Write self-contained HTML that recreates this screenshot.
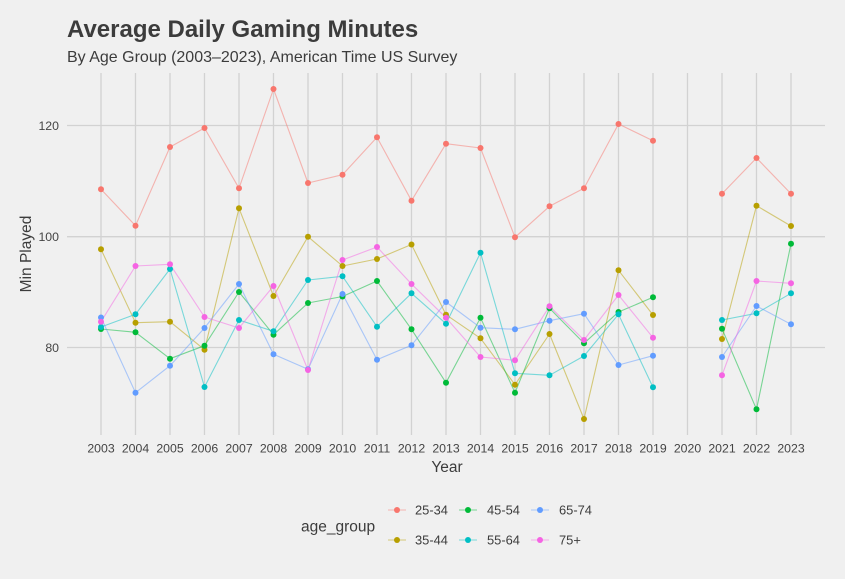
<!DOCTYPE html>
<html><head><meta charset="utf-8"><style>
html,body{margin:0;padding:0;background:#F0F0F0;}
svg{display:block;font-family:"Liberation Sans",sans-serif;}
</style></head><body>
<svg width="845" height="579" viewBox="0 0 845 579" xmlns="http://www.w3.org/2000/svg">
<rect width="845" height="579" fill="#F0F0F0"/>
<text x="67" y="37" font-size="24" font-weight="bold" fill="#3C3C3C">Average Daily Gaming Minutes</text>
<text x="67" y="62" font-size="16" fill="#3C3C3C">By Age Group (2003–2023), American Time US Survey</text>
<g stroke="#D2D2D2" stroke-width="1.3">
<line x1="67" x2="825" y1="125.5" y2="125.5"/><line x1="67" x2="825" y1="236.7" y2="236.7"/><line x1="67" x2="825" y1="347.5" y2="347.5"/>
<line x1="101" x2="101" y1="73" y2="435"/><line x1="135.5" x2="135.5" y1="73" y2="435"/><line x1="170" x2="170" y1="73" y2="435"/><line x1="204.5" x2="204.5" y1="73" y2="435"/><line x1="239" x2="239" y1="73" y2="435"/><line x1="273.5" x2="273.5" y1="73" y2="435"/><line x1="308" x2="308" y1="73" y2="435"/><line x1="342.5" x2="342.5" y1="73" y2="435"/><line x1="377" x2="377" y1="73" y2="435"/><line x1="411.5" x2="411.5" y1="73" y2="435"/><line x1="446" x2="446" y1="73" y2="435"/><line x1="480.5" x2="480.5" y1="73" y2="435"/><line x1="515" x2="515" y1="73" y2="435"/><line x1="549.5" x2="549.5" y1="73" y2="435"/><line x1="584" x2="584" y1="73" y2="435"/><line x1="618.5" x2="618.5" y1="73" y2="435"/><line x1="653" x2="653" y1="73" y2="435"/><line x1="687.5" x2="687.5" y1="73" y2="435"/><line x1="722" x2="722" y1="73" y2="435"/><line x1="756.5" x2="756.5" y1="73" y2="435"/><line x1="791" x2="791" y1="73" y2="435"/>
</g>
<g font-size="12.3" fill="#444" text-anchor="end">
<text x="59" y="129.8">120</text><text x="59" y="241">100</text><text x="59" y="351.8">80</text>
</g>
<g font-size="12.3" fill="#444" text-anchor="middle">
<text x="101" y="452.5">2003</text><text x="135.5" y="452.5">2004</text><text x="170" y="452.5">2005</text><text x="204.5" y="452.5">2006</text><text x="239" y="452.5">2007</text><text x="273.5" y="452.5">2008</text><text x="308" y="452.5">2009</text><text x="342.5" y="452.5">2010</text><text x="377" y="452.5">2011</text><text x="411.5" y="452.5">2012</text><text x="446" y="452.5">2013</text><text x="480.5" y="452.5">2014</text><text x="515" y="452.5">2015</text><text x="549.5" y="452.5">2016</text><text x="584" y="452.5">2017</text><text x="618.5" y="452.5">2018</text><text x="653" y="452.5">2019</text><text x="687.5" y="452.5">2020</text><text x="722" y="452.5">2021</text><text x="756.5" y="452.5">2022</text><text x="791" y="452.5">2023</text>
</g>
<text x="447" y="472" font-size="15.5" fill="#3C3C3C" text-anchor="middle">Year</text>
<text transform="translate(31,254) rotate(-90)" font-size="15.5" fill="#3C3C3C" text-anchor="middle">Min Played</text>

<g fill="none" stroke-width="1.1" stroke-opacity="0.5" stroke-linejoin="round">
<polyline stroke="#F8766D" points="101,189.3 135.5,225.7 170,147 204.5,128 239,188.3 273.5,89 308,183 342.5,174.7 377,137.3 411.5,200.7 446,143.7 480.5,148 515,237.3 549.5,206.3 584,188.3 618.5,124 653,140.7"/>
<polyline stroke="#F8766D" points="722,193.7 756.5,158 791,193.7"/>
<polyline stroke="#B79F00" points="101,249.3 135.5,322.7 170,321.7 204.5,349.7 239,208.3 273.5,296 308,236.7 342.5,266 377,259 411.5,244.5 446,314.7 480.5,338.3 515,384.7 549.5,334 584,419 618.5,270.3 653,315"/>
<polyline stroke="#B79F00" points="722,339 756.5,205.7 791,226"/>
<polyline stroke="#00BA38" points="101,329 135.5,332.3 170,358.7 204.5,345.7 239,292 273.5,334.7 308,303 342.5,296.5 377,281 411.5,329.3 446,382.7 480.5,317.7 515,392.7 549.5,308.3 584,343.3 618.5,312 653,297.3"/>
<polyline stroke="#00BA38" points="722,328.7 756.5,409.3 791,243.7"/>
<polyline stroke="#00BFC4" points="101,327 135.5,314.3 170,269 204.5,387 239,320 273.5,331.3 308,280 342.5,276.3 377,326.7 411.5,293.3 446,323.7 480.5,252.7 515,373.3 549.5,375.3 584,356 618.5,314.3 653,387.3"/>
<polyline stroke="#00BFC4" points="722,320 756.5,313.3 791,293.3"/>
<polyline stroke="#619CFF" points="101,317.5 135.5,392.7 170,365.7 204.5,328 239,284 273.5,354.3 308,369.3 342.5,294 377,359.7 411.5,345.3 446,302 480.5,327.7 515,329.3 549.5,320.7 584,313.7 618.5,365 653,355.7"/>
<polyline stroke="#619CFF" points="722,357 756.5,306 791,324.3"/>
<polyline stroke="#F564E3" points="101,321.7 135.5,266 170,264.3 204.5,317 239,328 273.5,286 308,370 342.5,260 377,247 411.5,284 446,317.7 480.5,357 515,360.3 549.5,306.3 584,340 618.5,295 653,337.7"/>
<polyline stroke="#F564E3" points="722,375.3 756.5,281 791,283.3"/>
</g>

<g fill="#F8766D">
<circle cx="101" cy="189.3" r="3"/><circle cx="135.5" cy="225.7" r="3"/><circle cx="170" cy="147" r="3"/><circle cx="204.5" cy="128" r="3"/><circle cx="239" cy="188.3" r="3"/><circle cx="273.5" cy="89" r="3"/><circle cx="308" cy="183" r="3"/><circle cx="342.5" cy="174.7" r="3"/><circle cx="377" cy="137.3" r="3"/><circle cx="411.5" cy="200.7" r="3"/><circle cx="446" cy="143.7" r="3"/><circle cx="480.5" cy="148" r="3"/><circle cx="515" cy="237.3" r="3"/><circle cx="549.5" cy="206.3" r="3"/><circle cx="584" cy="188.3" r="3"/><circle cx="618.5" cy="124" r="3"/><circle cx="653" cy="140.7" r="3"/><circle cx="722" cy="193.7" r="3"/><circle cx="756.5" cy="158" r="3"/><circle cx="791" cy="193.7" r="3"/>
</g>
<g fill="#B79F00">
<circle cx="101" cy="249.3" r="3"/><circle cx="135.5" cy="322.7" r="3"/><circle cx="170" cy="321.7" r="3"/><circle cx="204.5" cy="349.7" r="3"/><circle cx="239" cy="208.3" r="3"/><circle cx="273.5" cy="296" r="3"/><circle cx="308" cy="236.7" r="3"/><circle cx="342.5" cy="266" r="3"/><circle cx="377" cy="259" r="3"/><circle cx="411.5" cy="244.5" r="3"/><circle cx="446" cy="314.7" r="3"/><circle cx="480.5" cy="338.3" r="3"/><circle cx="515" cy="384.7" r="3"/><circle cx="549.5" cy="334" r="3"/><circle cx="584" cy="419" r="3"/><circle cx="618.5" cy="270.3" r="3"/><circle cx="653" cy="315" r="3"/><circle cx="722" cy="339" r="3"/><circle cx="756.5" cy="205.7" r="3"/><circle cx="791" cy="226" r="3"/>
</g>
<g fill="#00BA38">
<circle cx="101" cy="329" r="3"/><circle cx="135.5" cy="332.3" r="3"/><circle cx="170" cy="358.7" r="3"/><circle cx="204.5" cy="345.7" r="3"/><circle cx="239" cy="292" r="3"/><circle cx="273.5" cy="334.7" r="3"/><circle cx="308" cy="303" r="3"/><circle cx="342.5" cy="296.5" r="3"/><circle cx="377" cy="281" r="3"/><circle cx="411.5" cy="329.3" r="3"/><circle cx="446" cy="382.7" r="3"/><circle cx="480.5" cy="317.7" r="3"/><circle cx="515" cy="392.7" r="3"/><circle cx="549.5" cy="308.3" r="3"/><circle cx="584" cy="343.3" r="3"/><circle cx="618.5" cy="312" r="3"/><circle cx="653" cy="297.3" r="3"/><circle cx="722" cy="328.7" r="3"/><circle cx="756.5" cy="409.3" r="3"/><circle cx="791" cy="243.7" r="3"/>
</g>
<g fill="#00BFC4">
<circle cx="101" cy="327" r="3"/><circle cx="135.5" cy="314.3" r="3"/><circle cx="170" cy="269" r="3"/><circle cx="204.5" cy="387" r="3"/><circle cx="239" cy="320" r="3"/><circle cx="273.5" cy="331.3" r="3"/><circle cx="308" cy="280" r="3"/><circle cx="342.5" cy="276.3" r="3"/><circle cx="377" cy="326.7" r="3"/><circle cx="411.5" cy="293.3" r="3"/><circle cx="446" cy="323.7" r="3"/><circle cx="480.5" cy="252.7" r="3"/><circle cx="515" cy="373.3" r="3"/><circle cx="549.5" cy="375.3" r="3"/><circle cx="584" cy="356" r="3"/><circle cx="618.5" cy="314.3" r="3"/><circle cx="653" cy="387.3" r="3"/><circle cx="722" cy="320" r="3"/><circle cx="756.5" cy="313.3" r="3"/><circle cx="791" cy="293.3" r="3"/>
</g>
<g fill="#619CFF">
<circle cx="101" cy="317.5" r="3"/><circle cx="135.5" cy="392.7" r="3"/><circle cx="170" cy="365.7" r="3"/><circle cx="204.5" cy="328" r="3"/><circle cx="239" cy="284" r="3"/><circle cx="273.5" cy="354.3" r="3"/><circle cx="308" cy="369.3" r="3"/><circle cx="342.5" cy="294" r="3"/><circle cx="377" cy="359.7" r="3"/><circle cx="411.5" cy="345.3" r="3"/><circle cx="446" cy="302" r="3"/><circle cx="480.5" cy="327.7" r="3"/><circle cx="515" cy="329.3" r="3"/><circle cx="549.5" cy="320.7" r="3"/><circle cx="584" cy="313.7" r="3"/><circle cx="618.5" cy="365" r="3"/><circle cx="653" cy="355.7" r="3"/><circle cx="722" cy="357" r="3"/><circle cx="756.5" cy="306" r="3"/><circle cx="791" cy="324.3" r="3"/>
</g>
<g fill="#F564E3">
<circle cx="101" cy="321.7" r="3"/><circle cx="135.5" cy="266" r="3"/><circle cx="170" cy="264.3" r="3"/><circle cx="204.5" cy="317" r="3"/><circle cx="239" cy="328" r="3"/><circle cx="273.5" cy="286" r="3"/><circle cx="308" cy="370" r="3"/><circle cx="342.5" cy="260" r="3"/><circle cx="377" cy="247" r="3"/><circle cx="411.5" cy="284" r="3"/><circle cx="446" cy="317.7" r="3"/><circle cx="480.5" cy="357" r="3"/><circle cx="515" cy="360.3" r="3"/><circle cx="549.5" cy="306.3" r="3"/><circle cx="584" cy="340" r="3"/><circle cx="618.5" cy="295" r="3"/><circle cx="653" cy="337.7" r="3"/><circle cx="722" cy="375.3" r="3"/><circle cx="756.5" cy="281" r="3"/><circle cx="791" cy="283.3" r="3"/>
</g>

<text x="301" y="531.5" font-size="15.5" fill="#3C3C3C">age_group</text>
<g stroke-width="1.1" stroke-opacity="0.5">
<line x1="388" x2="406" y1="510" y2="510" stroke="#F8766D"/>
<line x1="388" x2="406" y1="540" y2="540" stroke="#B79F00"/>
<line x1="459" x2="477" y1="510" y2="510" stroke="#00BA38"/>
<line x1="459" x2="477" y1="540" y2="540" stroke="#00BFC4"/>
<line x1="531" x2="549" y1="510" y2="510" stroke="#619CFF"/>
<line x1="531" x2="549" y1="540" y2="540" stroke="#F564E3"/>
</g>
<circle cx="397" cy="510" r="3" fill="#F8766D"/>
<circle cx="397" cy="540" r="3" fill="#B79F00"/>
<circle cx="468" cy="510" r="3" fill="#00BA38"/>
<circle cx="468" cy="540" r="3" fill="#00BFC4"/>
<circle cx="540" cy="510" r="3" fill="#619CFF"/>
<circle cx="540" cy="540" r="3" fill="#F564E3"/>
<g font-size="12.9" fill="#3C3C3C">
<text x="415" y="514.5">25-34</text>
<text x="415" y="544.5">35-44</text>
<text x="487" y="514.5">45-54</text>
<text x="487" y="544.5">55-64</text>
<text x="559" y="514.5">65-74</text>
<text x="559" y="544.5">75+</text>
</g>
</svg>
</body></html>
